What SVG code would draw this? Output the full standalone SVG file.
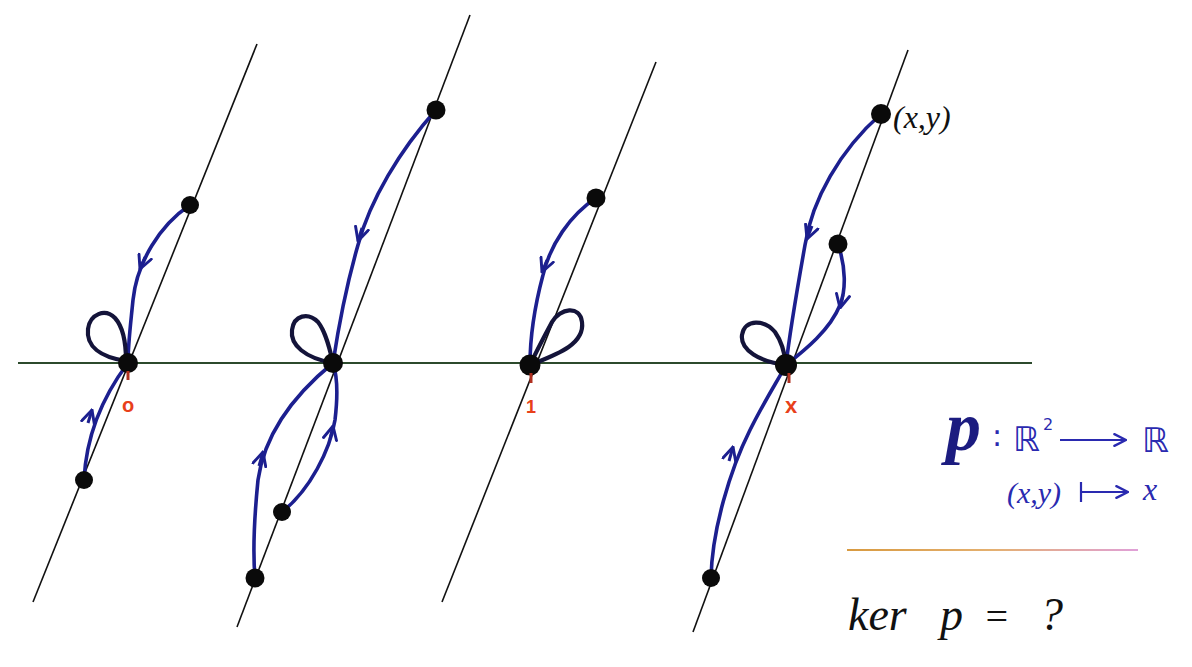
<svg xmlns="http://www.w3.org/2000/svg" width="1192" height="667" viewBox="0 0 1192 667">
<defs>
<style>
.fib{stroke:#111;stroke-width:1.6;fill:none}
.cur{stroke:#1c1f8f;stroke-width:3.6;fill:none;stroke-linecap:round}
.loop{stroke:#14143a;stroke-width:4.2;fill:none}
.dot{fill:#0a0a0a}
.ar{stroke:#1c1f8f;stroke-width:3;fill:none;marker-end:url(#chev)}
.red{fill:#e8401a;font-family:"Liberation Sans",sans-serif;font-weight:bold}
.hand{font-family:"Liberation Serif",serif;font-style:italic}
.blue{fill:#2a2ab0}
</style>
<marker id="chev" viewBox="0 0 12 12" refX="11" refY="6" markerWidth="16" markerHeight="16" markerUnits="userSpaceOnUse" orient="auto">
<path d="M1,1 L11,6 L1,11" fill="none" stroke="#1c1f8f" stroke-width="2.2" stroke-linecap="round"/>
</marker>
<marker id="arh" viewBox="0 0 12 12" refX="11" refY="6" markerWidth="14" markerHeight="14" markerUnits="userSpaceOnUse" orient="auto">
<path d="M1,1 L11,6 L1,11" fill="none" stroke="#2a2ab0" stroke-width="2" stroke-linecap="round"/>
</marker>
<linearGradient id="sep" gradientUnits="userSpaceOnUse" x1="847" y1="550" x2="1138" y2="550">
<stop offset="0" stop-color="#d89a40"/>
<stop offset="0.5" stop-color="#e4b070"/>
<stop offset="1" stop-color="#e0a0d8"/>
</linearGradient>
</defs>
<rect width="1192" height="667" fill="#ffffff"/>

<g id="axis">
<line x1="18" y1="363" x2="1032" y2="363" stroke="#2c4a2c" stroke-width="2"/>
</g>

<g id="fibres">
<line class="fib" x1="33" y1="602" x2="257" y2="44"/>
<line class="fib" x1="237" y1="627" x2="470" y2="15"/>
<line class="fib" x1="442" y1="602" x2="656" y2="62"/>
<line class="fib" x1="693" y1="632" x2="908" y2="50"/>
</g>

<g id="connectors">
<path class="cur" d="M190,205 C160,225 137,262 133,300 C130,330 128,345 128,363"/>
<path class="loop" d="M126,361 C100,357 86,346 88,329 C90,314 105,308 115,318 C124,328 126,345 126,361"/>
<path class="cur" d="M84,480 C86,440 100,400 128,363"/>
<path class="cur" d="M436,110 C400,150 370,200 358,245 C345,290 338,330 333,363"/>
<path class="loop" d="M333,363 C305,358 290,345 292,330 C294,315 308,312 318,322 C326,332 330,350 333,363"/>
<path class="cur" d="M333,363 C300,390 265,430 258,480 C254,520 253,555 255,578"/>
<path class="cur" d="M282,512 C310,490 330,450 335,420 C338,395 337,375 333,363"/>
<path class="cur" d="M596,198 C570,215 550,245 543,275 C535,305 530,340 530,365"/>
<path class="loop" d="M530,365 C555,355 585,345 582,322 C580,305 560,308 552,322 C545,335 537,350 530,365"/>
<path class="cur" d="M881,114 C840,150 812,200 805,245 C797,290 790,330 786,365"/>
<path class="cur" d="M838,244 C846,268 846,290 840,305 C830,330 805,350 786,365"/>
<path class="loop" d="M786,365 C760,362 740,350 742,335 C745,318 765,320 775,332 C782,342 785,355 786,365"/>
<path class="cur" d="M711,578 C712,530 730,470 750,430 C765,400 778,380 786,365"/>
<path class="ar" d="M145,257 L140,269"/>
<path class="ar" d="M88,423 L92,410"/>
<path class="ar" d="M362,228 L358,241"/>
<path class="ar" d="M259,466 L263,452"/>
<path class="ar" d="M330,439 L333,426"/>
<path class="ar" d="M547,260 L542,272"/>
<path class="ar" d="M812,226 L807,239"/>
<path class="ar" d="M843,295 L840,308"/>
<path class="ar" d="M729,461 L733,447"/>
</g>

<g id="points">
<circle class="dot" cx="190" cy="205" r="9"/>
<circle class="dot" cx="128" cy="363" r="10"/>
<circle class="dot" cx="84" cy="480" r="9"/>
<circle class="dot" cx="436" cy="110" r="9.5"/>
<circle class="dot" cx="333" cy="363" r="10"/>
<circle class="dot" cx="282" cy="512" r="9"/>
<circle class="dot" cx="255" cy="578" r="9.5"/>
<circle class="dot" cx="596" cy="198" r="9.5"/>
<circle class="dot" cx="530" cy="365" r="10.5"/>
<circle class="dot" cx="881" cy="114" r="10"/>
<circle class="dot" cx="838" cy="244" r="9.5"/>
<circle class="dot" cx="786" cy="365" r="11"/>
<circle class="dot" cx="711" cy="578" r="9"/>
</g>

<g id="labels-red">
<line x1="128" y1="371" x2="128" y2="380" stroke="#b03020" stroke-width="3"/>
<line x1="531" y1="373" x2="531" y2="383" stroke="#b03020" stroke-width="3"/>
<line x1="789" y1="373" x2="789" y2="383" stroke="#b03020" stroke-width="3"/>
<text class="red" x="128" y="412" font-size="20" text-anchor="middle">o</text>
<text class="red" x="531" y="413" font-size="18" text-anchor="middle">1</text>
<text class="red" x="791" y="413" font-size="22" text-anchor="middle">x</text>
</g>

<g id="point-label">
<text class="hand" x="893" y="128" font-size="32" fill="#111">(x,y)</text>
</g>

<g id="map">
<text class="hand" x="946" y="450" font-size="70" font-weight="bold" fill="#1c1c80">p</text>
<text x="992" y="446" font-size="30" fill="#2a2ab0" font-family="DejaVu Sans,sans-serif">:</text>
<text x="1013" y="451" font-size="34" fill="#2a2ab0" font-family="DejaVu Sans,sans-serif">ℝ</text>
<text x="1043" y="430" font-size="16" fill="#2a2ab0" font-family="DejaVu Sans,sans-serif">2</text>
<line x1="1060" y1="440" x2="1126" y2="440" stroke="#2a2ab0" stroke-width="2.2" marker-end="url(#arh)"/>
<text x="1142" y="452" font-size="34" fill="#2a2ab0" font-family="DejaVu Sans,sans-serif">ℝ</text>
<text class="hand blue" x="1007" y="503" font-size="30">(x,y)</text>
<line x1="1081" y1="482" x2="1081" y2="502" stroke="#2a2ab0" stroke-width="2.2"/>
<line x1="1081" y1="492" x2="1128" y2="492" stroke="#2a2ab0" stroke-width="2.2" marker-end="url(#arh)"/>
<text class="hand blue" x="1143" y="500" font-size="32">x</text>
</g>

<g id="separator">
<line x1="847" y1="550" x2="1138" y2="550" stroke="url(#sep)" stroke-width="2"/>
</g>

<g id="question">
<text class="hand" x="848" y="630" font-size="46" fill="#111">ker</text>
<text class="hand" x="940" y="630" font-size="46" fill="#111">p</text>
<text class="hand" x="983" y="630" font-size="40" fill="#111">=</text>
<text class="hand" x="1040" y="630" font-size="46" fill="#111">?</text>
</g>
</svg>
